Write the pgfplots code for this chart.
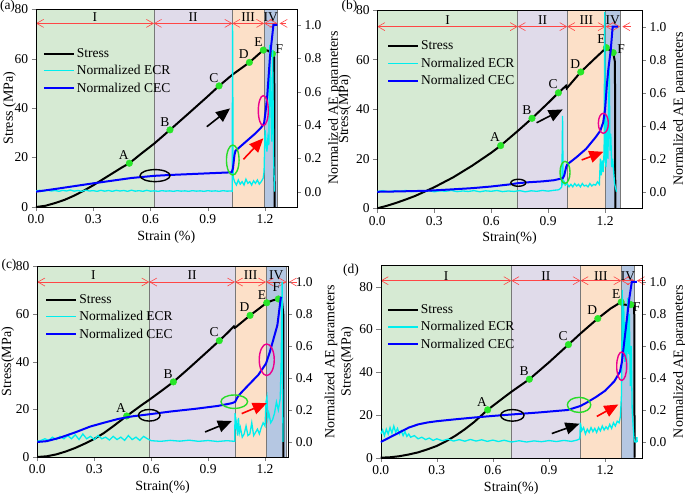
\documentclass[border=0pt]{standalone}
\usepackage{fontspec}
\setmainfont{Liberation Serif}
\usepackage{pgfplots}
\pgfplotsset{compat=1.18}
\usetikzlibrary{arrows.meta}
\newcommand\fs{\fontsize{13.5}{15}\selectfont}
\newcommand\fsl{\fontsize{14}{16}\selectfont}
\definecolor{rgI}{RGB}{214,234,211}
\definecolor{rgII}{RGB}{224,219,234}
\definecolor{rgIII}{RGB}{252,224,200}
\definecolor{rgIV}{RGB}{181,199,226}
\definecolor{ecr}{RGB}{0,238,238}
\definecolor{cec}{RGB}{0,0,255}
\definecolor{dotg}{RGB}{40,230,40}
\definecolor{ellg}{RGB}{40,220,40}
\definecolor{bnd}{RGB}{120,120,120}
\definecolor{rarc}{RGB}{255,70,70}
\tikzset{
  stressline/.style={black, line width=2pt},
  ecrline/.style={ecr, line width=1.3pt},
  cecline/.style={cec, line width=2pt},
  rarr/.style={rarc, line width=0.6pt, {Straight Barb[length=7pt,width=8pt]}-{Straight Barb[length=7pt,width=8pt]}},
  rarrL/.style={rarc, line width=0.6pt, {Straight Barb[length=7pt,width=8pt]}-},
  bigarrow/.style={line width=1.6pt, -{Triangle[length=14pt,width=12pt]}},
  reglab/.style={font=\fs, inner sep=0pt},
  ell/.style={line width=1.4pt},
}
\pgfplotsset{
  leftax/.style={scale only axis, anchor=south west, xmin=0, ymin=0, clip=false, axis on top,
    tick align=outside, xtick pos=bottom, ytick pos=left,
    xtick={0,0.3,0.6,0.9,1.2},
    xticklabel style={/pgf/number format/.cd,fixed,fixed zerofill,precision=1},
    /pgf/number format/assume math mode=true,
    tick label style={font=\fs}, label style={font=\fsl},
    legend cell align=left,
    legend style={draw=none, fill=none, anchor=north west, font=\fs, inner sep=0pt, row sep=2.5pt},
    legend image code/.code={\draw[##1] (0pt,0pt) -- (30pt,0pt);}},
  rightax/.style={scale only axis, anchor=south west, xmin=0, axis x line=none, axis y line*=right,
    tick align=outside, ytick={0,0.2,0.4,0.6,0.8,1.0},
    yticklabel style={/pgf/number format/.cd,fixed,fixed zerofill,precision=1},
    /pgf/number format/assume math mode=true,
    tick label style={font=\fs}, label style={font=\fsl},
    ylabel={Normalized AE parameters}},
  dots/.style={only marks, mark=*, mark size=3.3pt, mark options={fill=dotg, draw=dotg}, forget plot,
    point meta=explicit symbolic, nodes near coords,
    every node near coord/.append style={text=black, anchor=south east, inner sep=0.5pt, yshift=3pt, font=\fs}},
}
\newcommand\regshade[5]{%
  \fill[rgI] (axis cs:0,0) rectangle (axis cs:#1,#5);
  \fill[rgII] (axis cs:#1,0) rectangle (axis cs:#2,#5);
  \fill[rgIII] (axis cs:#2,0) rectangle (axis cs:#3,#5);
  \fill[rgIV] (axis cs:#3,0) rectangle (axis cs:#4,#5);
  \draw[bnd, line width=0.8pt] (axis cs:#1,0) -- (axis cs:#1,#5);
  \draw[bnd, line width=0.8pt] (axis cs:#2,0) -- (axis cs:#2,#5);
  \draw[bnd, line width=0.8pt] (axis cs:#3,0) -- (axis cs:#3,#5);
  \draw[bnd, line width=0.8pt] (axis cs:#4,0) -- (axis cs:#4,#5);}
\newcommand\regarrows[6]{%
  \draw[rarr] (axis cs:0,#6) -- (axis cs:#1,#6);
  \draw[rarr] (axis cs:#1,#6) -- (axis cs:#2,#6);
  \draw[rarr] (axis cs:#2,#6) -- (axis cs:#3,#6);
  \draw[rarr] (axis cs:#3,#6) -- (axis cs:#4,#6);
  \draw[rarrL] (axis cs:#4+0.012,#6) -- (axis cs:#5,#6);}
\begin{document}
\begin{tikzpicture}
%================ (a)
\begin{axis}[leftax, at={(36pt,-207pt)}, width=260.7pt, height=197.7pt, xmax=1.366, ymax=80,
  ytick={0,20,40,60,80}, xlabel={Strain (\%)}, ylabel={Stress (MPa)}, ylabel shift=-8pt, legend style={at={(0.026,0.813)}}]
\regshade{0.618}{1.029}{1.195}{1.265}{80}
\regarrows{0.618}{1.029}{1.195}{1.265}{1.31}{74.3}
\node[reglab] at (axis cs:0.309,77) {I};
\node[reglab] at (axis cs:0.8235,77) {II};
\node[reglab] at (axis cs:1.112,77) {III};
\node[reglab] at (axis cs:1.23,77) {IV};
\addplot[stressline] coordinates {(0,0)(0.05,0.5)(0.1,1.6)(0.15,2.9)(0.2,4.6)(0.25,6.6)(0.3,8.8)(0.35,11.2)(0.4,13.6)(0.45,16.0)(0.489,17.7)(0.55,21.5)(0.62,25.7)(0.702,31.2)(0.8,37.9)(0.9,44.8)(0.959,49.0)(1.03,53.6)(1.118,58.5)(1.191,63.5)(1.215,63.3)(1.239,62.0)(1.248,60.5)(1.25,0)};
\addlegendentry{Stress}
\addlegendimage{ecrline}\addlegendentry{Normalized ECR}
\addlegendimage{cecline}\addlegendentry{Normalized CEC}
\addplot[dots] coordinates {(0.489,17.7)[A] (0.702,31.2)[B] (0.959,49.0)[C] (1.118,58.5)[D] (1.191,63.5)[E]};
\addplot[dots, every node near coord/.append style={anchor=west, xshift=2.5pt, yshift=2pt}] coordinates {(1.239,62.0)[F]};
\coordinate (aT1) at (axis cs:0.895,32.5); \coordinate (aH1) at (axis cs:1.017,39.9);
\coordinate (aT2) at (axis cs:1.087,19.3); \coordinate (aH2) at (axis cs:1.191,27.8);
\coordinate (aE1) at (axis cs:0.624,12.7); \coordinate (aE2) at (axis cs:1.031,19.0); \coordinate (aE3) at (axis cs:1.191,39.0);
\end{axis}
\begin{axis}[rightax, at={(36pt,-207pt)}, width=260.7pt, height=197.7pt, xmax=1.366, ymin=-0.092, ymax=1.094]
\addplot[ecrline] coordinates {(0,0.005)(0.02,0.008)(0.04,0.003)(0.06,0.009)(0.08,0.004)(0.1,0.007)(0.12,0.002)(0.14,0.008)(0.16,0.004)(0.18,0.01)(0.2,0.003)(0.22,0.007)(0.24,0.002)(0.26,0.009)(0.28,0.004)(0.3,0.006)(0.32,0.002)(0.34,0.008)(0.36,0.003)(0.38,0.007)(0.4,0.002)(0.42,0.008)(0.44,0.004)(0.46,0.007)(0.48,0.002)(0.5,0.009)(0.52,0.003)(0.54,0.006)(0.56,0.002)(0.58,0.008)(0.6,0.003)(0.62,0.005)(0.64,0.002)(0.66,0.006)(0.68,0.003)(0.7,0.005)(0.72,0.002)(0.74,0.006)(0.76,0.003)(0.78,0.005)(0.8,0.002)(0.82,0.006)(0.84,0.003)(0.86,0.005)(0.88,0.002)(0.9,0.006)(0.92,0.003)(0.94,0.005)(0.96,0.002)(0.98,0.006)(1.0,0.003)(1.02,0.004)(1.028,0.003)(1.03,1.0)(1.033,0.09)(1.04,0.06)(1.05,0.04)(1.06,0.07)(1.07,0.045)(1.08,0.06)(1.09,0.04)(1.1,0.075)(1.11,0.05)(1.12,0.06)(1.13,0.04)(1.14,0.065)(1.15,0.05)(1.16,0.07)(1.17,0.045)(1.18,0.06)(1.19,0.08)(1.195,0.12)(1.2,0.37)(1.205,0.3)(1.21,0.24)(1.215,0.32)(1.22,0.28)(1.225,0.88)(1.23,0.55)(1.235,0.3)(1.24,0.85)(1.245,0.2)(1.25,0.0)};
\addplot[cecline] coordinates {(0,0)(0.1,0.016)(0.2,0.033)(0.3,0.05)(0.4,0.066)(0.5,0.082)(0.62,0.095)(0.7,0.1)(0.8,0.105)(0.9,0.11)(1.025,0.116)(1.032,0.14)(1.04,0.22)(1.045,0.245)(1.1,0.3)(1.15,0.35)(1.18,0.385)(1.195,0.41)(1.205,0.5)(1.212,0.58)(1.226,0.81)(1.244,1.0)(1.265,1.0)};
\end{axis}
\draw[bigarrow] (aT1) -- (aH1);
\draw[bigarrow, red] (aT2) -- (aH2);
\draw[ell] (aE1) ellipse [x radius=15pt, y radius=6pt];
\draw[ell, ellg] (aE2) ellipse [x radius=6.3pt, y radius=15pt];
\draw[ell, magenta] (aE3) ellipse [x radius=5pt, y radius=15pt];
%================ (b)
\begin{axis}[leftax, at={(377.3pt,-208.3pt)}, width=264.4pt, height=198.3pt, xmax=1.393, ymax=80,
  ytick={0,20,40,60,80}, xlabel={Strain(\%)}, ylabel={Stress(MPa)}, ylabel shift=-2pt, legend style={at={(0.036,0.855)}}]
\regshade{0.740}{1.001}{1.203}{1.279}{80}
\regarrows{0.740}{1.001}{1.203}{1.279}{1.335}{73.3}
\node[reglab] at (axis cs:0.37,76) {I};
\node[reglab] at (axis cs:0.8705,76) {II};
\node[reglab] at (axis cs:1.102,76) {III};
\node[reglab] at (axis cs:1.241,76) {IV};
\addplot[stressline] coordinates {(0,0)(0.05,1.0)(0.1,2.2)(0.15,3.55)(0.2,5.0)(0.3,8.5)(0.4,12.5)(0.5,17.2)(0.6,22.4)(0.65,25.3)(0.74,31.2)(0.815,36.3)(0.9,42.5)(0.954,46.6)(0.994,49.4)(0.998,48.4)(1.072,55.0)(1.14,60.0)(1.207,64.8)(1.225,63.8)(1.243,62.8)(1.252,59.0)(1.254,0)};
\addlegendentry{Stress}
\addlegendimage{ecrline}\addlegendentry{Normalized ECR}
\addlegendimage{cecline}\addlegendentry{Normalized CEC}
\addplot[dots] coordinates {(0.650,25.3)[A] (0.815,36.3)[B] (0.954,46.6)[C] (1.072,55.0)[D] (1.207,64.8)[E]};
\addplot[dots, every node near coord/.append style={anchor=west, xshift=3.5pt, yshift=1pt}] coordinates {(1.243,62.8)[F]};
\coordinate (bT1) at (axis cs:0.839,34.5); \coordinate (bH1) at (axis cs:0.977,39.9);
\coordinate (bT2) at (axis cs:1.077,19.5); \coordinate (bH2) at (axis cs:1.191,22.8);
\coordinate (bE1) at (axis cs:0.743,10.3); \coordinate (bE2) at (axis cs:0.989,14.5); \coordinate (bE3) at (axis cs:1.191,34.3);
\end{axis}
\begin{axis}[rightax, at={(377.3pt,-208.3pt)}, width=264.4pt, height=198.3pt, xmax=1.393, ymin=-0.10, ymax=1.101]
\addplot[ecrline] coordinates {(0,0.002)(0.03,0.007)(0.06,0.0)(0.09,0.006)(0.12,0.003)(0.15,0.008)(0.18,0.001)(0.21,0.005)(0.24,0.002)(0.27,0.007)(0.3,0.0)(0.33,0.006)(0.36,0.003)(0.39,0.008)(0.42,0.001)(0.45,0.005)(0.48,0.002)(0.51,0.007)(0.54,0.0)(0.57,0.006)(0.6,0.003)(0.63,0.008)(0.66,0.001)(0.69,0.005)(0.72,0.002)(0.75,0.007)(0.78,0.0)(0.81,0.006)(0.84,0.003)(0.87,0.008)(0.9,0.004)(0.93,0.009)(0.955,0.012)(0.965,0.02)(0.972,0.03)(0.976,0.46)(0.979,0.05)(0.985,0.06)(0.99,0.04)(1.0,0.05)(1.01,0.03)(1.02,0.045)(1.03,0.03)(1.04,0.05)(1.05,0.035)(1.06,0.045)(1.07,0.03)(1.08,0.05)(1.09,0.035)(1.1,0.04)(1.11,0.03)(1.12,0.05)(1.13,0.035)(1.14,0.045)(1.15,0.04)(1.16,0.06)(1.17,0.045)(1.175,0.2)(1.18,0.1)(1.185,0.19)(1.19,0.12)(1.195,0.25)(1.198,1.09)(1.201,0.2)(1.205,0.15)(1.21,0.45)(1.215,0.2)(1.222,0.75)(1.226,0.25)(1.23,0.35)(1.235,0.15)(1.24,0.2)(1.25,0.05)(1.26,0.0)};
\addplot[cecline] coordinates {(0,0)(0.1,0.002)(0.26,0.006)(0.4,0.015)(0.5,0.022)(0.6,0.032)(0.7,0.045)(0.74,0.052)(0.8,0.058)(0.87,0.063)(0.93,0.07)(0.977,0.082)(0.985,0.1)(0.995,0.15)(1.0,0.165)(1.05,0.21)(1.1,0.26)(1.15,0.33)(1.175,0.37)(1.19,0.42)(1.2,0.5)(1.209,0.64)(1.217,0.74)(1.23,0.86)(1.24,1.0)(1.267,1.0)};
\end{axis}
\draw[bigarrow] (bT1) -- (bH1);
\draw[bigarrow, red] (bT2) -- (bH2);
\draw[ell] (bE1) ellipse [x radius=7.5pt, y radius=3.5pt];
\draw[ell, ellg] (bE2) ellipse [x radius=5pt, y radius=11pt];
\draw[ell, magenta] (bE3) ellipse [x radius=5pt, y radius=10pt];
%================ (c)
\begin{axis}[leftax, at={(37.3pt,-457pt)}, width=250.7pt, height=190.7pt, xmax=1.321, ymax=80,
  ytick={0,20,40,60,80}, xlabel={Strain(\%)}, ylabel={Stress(MPa)}, ylabel shift=-5pt, legend style={at={(0.031,0.864)}}]
\regshade{0.590}{1.042}{1.205}{1.314}{80}
\regarrows{0.590}{1.042}{1.205}{1.314}{1.367}{73.4}
\node[reglab] at (axis cs:0.295,76.2) {I};
\node[reglab] at (axis cs:0.816,76.2) {II};
\node[reglab] at (axis cs:1.1235,76.2) {III};
\node[reglab] at (axis cs:1.2595,76.2) {IV};
\addplot[stressline] coordinates {(0,0)(0.05,0.3)(0.1,1.1)(0.15,2.3)(0.2,3.8)(0.25,5.6)(0.3,7.6)(0.35,10.0)(0.4,12.9)(0.471,17.2)(0.55,21.8)(0.59,24.0)(0.65,27.5)(0.717,31.5)(0.8,37.3)(0.9,44.5)(0.959,48.8)(1.0,51.9)(1.036,54.8)(1.04,54.2)(1.048,54.6)(1.121,59.4)(1.209,64.7)(1.24,65.7)(1.27,66.3)(1.29,65.0)(1.296,60)(1.297,0)};
\addlegendentry{Stress}
\addlegendimage{ecrline}\addlegendentry{Normalized ECR}
\addlegendimage{cecline}\addlegendentry{Normalized CEC}
\addplot[dots] coordinates {(0.471,17.2)[A] (0.717,31.5)[B] (0.959,48.8)[C] (1.121,59.4)[D] (1.209,64.7)[E]};
\addplot[dots, every node near coord/.append style={anchor=south, xshift=-2pt, yshift=4pt}] coordinates {(1.270,66.3)[F]};
\coordinate (cT1) at (axis cs:0.884,10.5); \coordinate (cH1) at (axis cs:1.025,15.1);
\coordinate (cT2) at (axis cs:1.077,18.2); \coordinate (cH2) at (axis cs:1.209,22.6);
\coordinate (cE1) at (axis cs:0.590,17.5); \coordinate (cE2) at (axis cs:1.038,23.2); \coordinate (cE3) at (axis cs:1.209,40.8);
\end{axis}
\begin{axis}[rightax, at={(37.3pt,-457pt)}, width=250.7pt, height=190.7pt, xmax=1.321, ymin=-0.094, ymax=1.098, ylabel shift=5pt]
\addplot[ecrline] coordinates {(0,0.005)(0.02,0.01)(0.04,0.02)(0.06,0.01)(0.08,0.03)(0.1,0.015)(0.12,0.035)(0.14,0.02)(0.16,0.04)(0.18,0.02)(0.2,0.045)(0.22,0.015)(0.24,0.05)(0.26,0.02)(0.28,0.035)(0.3,0.015)(0.32,0.04)(0.34,0.02)(0.36,0.03)(0.38,0.012)(0.4,0.035)(0.42,0.015)(0.44,0.03)(0.46,0.01)(0.48,0.04)(0.5,0.015)(0.52,0.03)(0.54,0.01)(0.56,0.035)(0.58,0.02)(0.6,0.008)(0.65,0.004)(0.7,0.01)(0.75,0.005)(0.8,0.011)(0.85,0.004)(0.9,0.009)(0.95,0.003)(1.0,0.008)(1.04,0.004)(1.042,0.18)(1.045,0.08)(1.05,0.12)(1.055,0.04)(1.06,0.15)(1.065,0.06)(1.07,0.09)(1.08,0.03)(1.09,0.05)(1.1,0.1)(1.11,0.04)(1.12,0.05)(1.13,0.12)(1.14,0.04)(1.15,0.06)(1.16,0.08)(1.17,0.05)(1.18,0.09)(1.19,0.12)(1.2,0.1)(1.205,0.25)(1.21,0.28)(1.215,0.15)(1.22,0.18)(1.23,0.12)(1.24,0.14)(1.25,0.18)(1.26,0.25)(1.27,0.2)(1.28,0.27)(1.285,0.5)(1.29,1.0)(1.292,0.4)(1.295,0.0)};
\addplot[cecline] coordinates {(0,0.0)(0.05,0.005)(0.12,0.027)(0.2,0.06)(0.278,0.096)(0.35,0.12)(0.427,0.144)(0.5,0.16)(0.59,0.173)(0.7,0.19)(0.831,0.207)(0.95,0.225)(1.024,0.242)(1.042,0.25)(1.055,0.28)(1.068,0.3)(1.1,0.34)(1.165,0.42)(1.205,0.49)(1.226,0.565)(1.265,0.73)(1.283,0.9)(1.288,0.906)};
\end{axis}
\draw[bigarrow] (cT1) -- (cH1);
\draw[bigarrow, red] (cT2) -- (cH2);
\draw[ell] (cE1) ellipse [x radius=10.8pt, y radius=5.8pt];
\draw[ell, ellg] (cE2) ellipse [x radius=13.3pt, y radius=6.7pt];
\draw[ell, magenta] (cE3) ellipse [x radius=7.5pt, y radius=15.8pt];
%================ (d)
\begin{axis}[leftax, at={(380.7pt,-457.7pt)}, width=261pt, height=192.4pt, xmax=1.396, ymax=90,
  ytick={0,20,40,60,80}, xlabel={Strain(\%)}, ylabel={Stress(MPa)}, ylabel shift=-1pt, legend style={at={(0.023,0.807)}}]
\regshade{0.699}{1.069}{1.287}{1.358}{90}
\regarrows{0.699}{1.069}{1.287}{1.358}{1.414}{82.8}
\node[reglab] at (axis cs:0.3495,85.1) {I};
\node[reglab] at (axis cs:0.884,85.1) {II};
\node[reglab] at (axis cs:1.178,85.1) {III};
\node[reglab] at (axis cs:1.3225,85.1) {IV};
\addplot[stressline] coordinates {(0,0)(0.05,0.2)(0.1,0.7)(0.15,1.5)(0.2,2.5)(0.25,3.9)(0.3,5.5)(0.35,7.7)(0.4,10.3)(0.45,13.3)(0.5,16.7)(0.572,22.4)(0.65,27.6)(0.7,30.9)(0.795,36.7)(0.9,44.6)(1.004,52.9)(1.07,58.2)(1.161,65.1)(1.23,69.8)(1.286,72.8)(1.3,71.6)(1.338,71.4)(1.356,71.0)(1.358,0)};
\addlegendentry{Stress}
\addlegendimage{ecrline}\addlegendentry{Normalized ECR}
\addlegendimage{cecline}\addlegendentry{Normalized CEC}
\addplot[dots] coordinates {(0.572,22.4)[A] (0.795,36.7)[B] (1.004,52.9)[C] (1.161,65.1)[D] (1.286,72.8)[E]};
\addplot[dots, every node near coord/.append style={anchor=west, xshift=1.5pt, yshift=-5pt}] coordinates {(1.338,71.6)[F]};
\coordinate (dT1) at (axis cs:0.915,11.3); \coordinate (dH1) at (axis cs:1.063,15.9);
\coordinate (dT2) at (axis cs:1.156,19.3); \coordinate (dH2) at (axis cs:1.271,24.9);
\coordinate (dE1) at (axis cs:0.704,19.8); \coordinate (dE2) at (axis cs:1.061,24.7); \coordinate (dE3) at (axis cs:1.289,42.8);
\end{axis}
\begin{axis}[rightax, at={(380.7pt,-457.7pt)}, width=261pt, height=192.4pt, xmax=1.396, ymin=-0.098, ymax=1.104]
\addplot[ecrline] coordinates {(0,0.05)(0.01,0.075)(0.02,0.04)(0.03,0.08)(0.04,0.05)(0.05,0.09)(0.06,0.055)(0.07,0.1)(0.08,0.06)(0.09,0.085)(0.1,0.05)(0.11,0.07)(0.12,0.04)(0.13,0.065)(0.14,0.035)(0.15,0.05)(0.16,0.03)(0.18,0.04)(0.2,0.02)(0.22,0.03)(0.24,0.015)(0.26,0.025)(0.28,0.01)(0.3,0.02)(0.33,0.008)(0.36,0.018)(0.39,0.006)(0.42,0.015)(0.45,0.005)(0.48,0.016)(0.51,0.006)(0.54,0.014)(0.57,0.004)(0.6,0.012)(0.63,0.003)(0.66,0.011)(0.7,0.0)(0.74,0.008)(0.78,0.0)(0.82,0.007)(0.86,0.002)(0.9,0.009)(0.94,0.003)(0.98,0.01)(1.02,0.004)(1.05,0.012)(1.065,0.02)(1.068,0.12)(1.075,0.07)(1.085,0.09)(1.095,0.05)(1.105,0.08)(1.115,0.06)(1.125,0.09)(1.135,0.065)(1.145,0.085)(1.155,0.06)(1.165,0.09)(1.175,0.07)(1.185,0.1)(1.195,0.075)(1.205,0.095)(1.215,0.08)(1.225,0.11)(1.235,0.085)(1.245,0.12)(1.255,0.1)(1.265,0.13)(1.275,0.12)(1.282,0.16)(1.288,0.3)(1.292,0.95)(1.296,0.6)(1.3,0.85)(1.305,0.5)(1.31,0.75)(1.315,0.45)(1.32,0.9)(1.325,0.55)(1.33,0.8)(1.335,0.35)(1.34,0.6)(1.345,0.2)(1.35,0.1)(1.355,0.02)(1.36,0.0)(1.368,0.0)(1.37,0.03)(1.372,0.0)};
\addplot[cecline] coordinates {(0,0.0)(0.05,0.03)(0.1,0.06)(0.15,0.09)(0.2,0.11)(0.25,0.122)(0.3,0.13)(0.4,0.142)(0.5,0.153)(0.6,0.163)(0.7,0.172)(0.85,0.185)(1.0,0.2)(1.068,0.225)(1.1,0.245)(1.15,0.28)(1.2,0.32)(1.25,0.38)(1.28,0.44)(1.29,0.5)(1.3,0.6)(1.315,0.75)(1.33,0.9)(1.343,1.0)(1.37,1.0)};
\end{axis}
\draw[bigarrow] (dT1) -- (dH1);
\draw[bigarrow, red] (dT2) -- (dH2);
\draw[ell] (dE1) ellipse [x radius=11.7pt, y radius=5.8pt];
\draw[ell, ellg] (dE2) ellipse [x radius=11.7pt, y radius=7.5pt];
\draw[ell, magenta] (dE3) ellipse [x radius=5pt, y radius=14.2pt];
%================ panel labels
\node[font=\fs, inner sep=0pt] at (7.5pt,-6.7pt) {(a)};
\node[font=\fs, inner sep=0pt] at (349.5pt,-6.7pt) {(b)};
\node[font=\fs, inner sep=0pt] at (9pt,-265.3pt) {(c)};
\node[font=\fs, inner sep=0pt] at (351pt,-270.3pt) {(d)};
\pgfresetboundingbox
\path[use as bounding box] (0,0) rectangle (685pt,-494pt);
\end{tikzpicture}
\end{document}
